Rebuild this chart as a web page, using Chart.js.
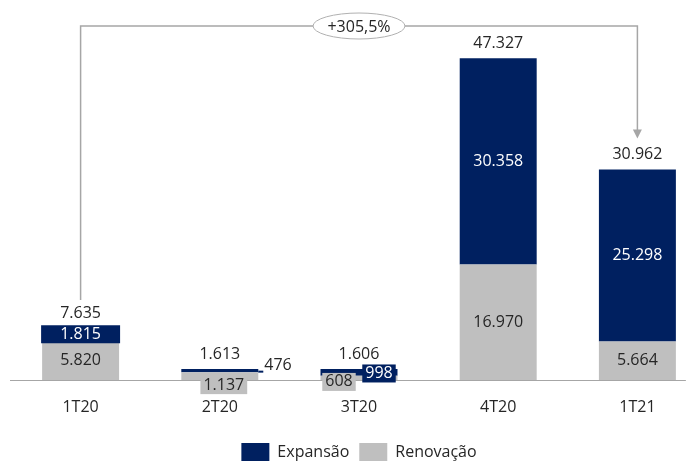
<!DOCTYPE html>
<html>
<head>
<meta charset="utf-8">
<script src="https://cdn.jsdelivr.net/npm/chart.js@4"></script>
<style>
  html, body { margin: 0; padding: 0; background: #fff; overflow: hidden; }
  #wrap { position: absolute; left: 0; top: 0; width: 696px; height: 463px; overflow: hidden; }
</style>
</head>
<body>
<div id="wrap"><canvas id="myChart" width="714" height="471"></canvas></div>
<script>
  // data
  const categories = ['1T20', '2T20', '3T20', '4T20', '1T21'];
  const expansao = [1815, 476, 998, 30358, 25298];
  const renovacao = [5820, 1137, 608, 16970, 5664];
  const totals = [7635, 1613, 1606, 47327, 30962];

  const NAVY = '#002060';
  const GRAY = '#bfbfbf';
  const TEXT = '#262626';
  const FONT = '"Open Sans", sans-serif';

  function fmt(v) {
    return String(v).replace(/\B(?=(\d{3})+(?!\d))/g, '.');
  }

  // how the small segment labels are placed (dataset index 0 = renovacao, 1 = expansao)
  const smallLabels = {
    '1-0': { mode: 'full', dy: 0 },
    '0-1': { mode: 'box', dx: 4, dy: 9 },
    '1-1': { mode: 'out', dy: -5 },
    '0-2': { mode: 'box', dx: -20, dy: 4 },
    '1-2': { mode: 'box', dx: 20, dy: 1 }
  };

  const segLabels = {
    id: 'segLabels',
    afterDatasetsDraw(chart) {
      const ctx = chart.ctx;
      ctx.save();
      ctx.font = '16px ' + FONT;
      ctx.textAlign = 'center';
      ctx.textBaseline = 'middle';

      // baseline
      const ys = chart.scales.y;
      const lastBar = chart.getDatasetMeta(0).data[categories.length - 1];
      ctx.strokeStyle = '#a6a6a6';
      ctx.lineWidth = 1;
      ctx.beginPath();
      ctx.moveTo(chart.chartArea.left - 1, ys.getPixelForValue(0) + 0.5);
      ctx.lineTo(lastBar.x + lastBar.width / 2 + 10, ys.getPixelForValue(0) + 0.5);
      ctx.stroke();

      chart.data.datasets.forEach((ds, di) => {
        const meta = chart.getDatasetMeta(di);
        meta.data.forEach((bar, i) => {
          const v = ds.data[i];
          const txt = fmt(v);
          const cy = (bar.y + bar.base) / 2;
          const isNavy = di === 1;
          const place = smallLabels[di + '-' + i];
          if (!place) {
            ctx.fillStyle = isNavy ? '#ffffff' : TEXT;
            ctx.fillText(txt, bar.x, cy);
            return;
          }
          const tw = ctx.measureText(txt).width;
          if (place.mode === 'full') {
            ctx.fillStyle = ds.backgroundColor;
            ctx.fillRect(bar.x - bar.width / 2 - 1, cy + place.dy - 9, bar.width + 2, 18);
            ctx.fillStyle = isNavy ? '#ffffff' : TEXT;
            ctx.fillText(txt, bar.x, cy + place.dy);
          } else if (place.mode === 'box') {
            const bx = bar.x + place.dx, by = cy + place.dy;
            ctx.fillStyle = ds.backgroundColor;
            ctx.fillRect(bx - tw / 2 - 3, by - 9, tw + 6, 18);
            ctx.fillStyle = isNavy ? '#ffffff' : TEXT;
            ctx.fillText(txt, bx, by);
          } else if (place.mode === 'out') {
            const x0 = bar.x + bar.width / 2;
            ctx.strokeStyle = ds.backgroundColor;
            ctx.lineWidth = 2;
            ctx.beginPath();
            ctx.moveTo(x0, cy + 1);
            ctx.lineTo(x0 + 5, cy + 1);
            ctx.stroke();
            ctx.fillStyle = TEXT;
            ctx.textAlign = 'left';
            ctx.fillText(txt, x0 + 6, cy + place.dy);
            ctx.textAlign = 'center';
          }
        });
      });

      // totals above the bars
      const topMeta = chart.getDatasetMeta(1);
      ctx.fillStyle = TEXT;
      totals.forEach((t, i) => {
        const bar = topMeta.data[i];
        ctx.fillText(fmt(t), bar.x, Math.min(bar.y, bar.base) - 15);
      });

      // growth bracket from first to last category
      const first = topMeta.data[0], last = topMeta.data[categories.length - 1];
      const yTop = chart.chartArea.top - 14;
      const yStart = first.y - 28;
      const yEnd = last.y - 31;
      ctx.strokeStyle = '#a6a6a6';
      ctx.lineWidth = 1.5;
      ctx.beginPath();
      ctx.moveTo(first.x, yStart);
      ctx.lineTo(first.x, yTop);
      ctx.lineTo(last.x, yTop);
      ctx.lineTo(last.x, yEnd - 8);
      ctx.stroke();
      ctx.fillStyle = '#a6a6a6';
      ctx.beginPath();
      ctx.moveTo(last.x - 4.5, yEnd - 9);
      ctx.lineTo(last.x + 4.5, yEnd - 9);
      ctx.lineTo(last.x, yEnd);
      ctx.closePath();
      ctx.fill();

      const growth = (totals[totals.length - 1] / totals[0] - 1) * 100;
      const gTxt = '+' + growth.toFixed(1).replace('.', ',') + '%';
      const mx = (first.x + last.x) / 2;
      ctx.beginPath();
      ctx.ellipse(mx, yTop, 46, 13, 0, 0, Math.PI * 2);
      ctx.fillStyle = '#ffffff';
      ctx.fill();
      ctx.strokeStyle = '#b0b0b0';
      ctx.lineWidth = 1;
      ctx.stroke();
      ctx.fillStyle = TEXT;
      ctx.fillText(gTxt, mx, yTop + 1);
      ctx.restore();
    }
  };

  const config = {
    type: 'bar',
    data: {
      labels: categories,
      datasets: [
        { label: 'Renovação', data: renovacao, backgroundColor: GRAY, stack: 's' },
        { label: 'Expansão', data: expansao, backgroundColor: NAVY, stack: 's' }
      ]
    },
    options: {
      responsive: false,
      animation: false,
      layout: { padding: { left: 11, right: 7, top: 40, bottom: 0 } },
      datasets: { bar: { categoryPercentage: 1, barPercentage: 0.553 } },
      scales: {
        x: {
          type: 'category',
          stacked: true,
          grid: { display: false, drawTicks: false },
          border: { display: false },
          ticks: { color: TEXT, font: { family: FONT, size: 16 }, padding: 18 },
          afterFit: s => { s.height = 53; }
        },
        y: {
          stacked: true,
          display: false,
          min: 0,
          max: 50000
        }
      },
      plugins: {
        tooltip: { enabled: false },
        legend: {
          position: 'bottom',
          reverse: true,
          labels: {
            boxWidth: 28,
            boxHeight: 18,
            padding: 10,
            color: TEXT,
            font: { family: FONT, size: 16 }
          }
        }
      }
    },
    plugins: [segLabels]
  };

  const myChart = new Chart(document.getElementById('myChart'), config);
</script>
</body>
</html>
